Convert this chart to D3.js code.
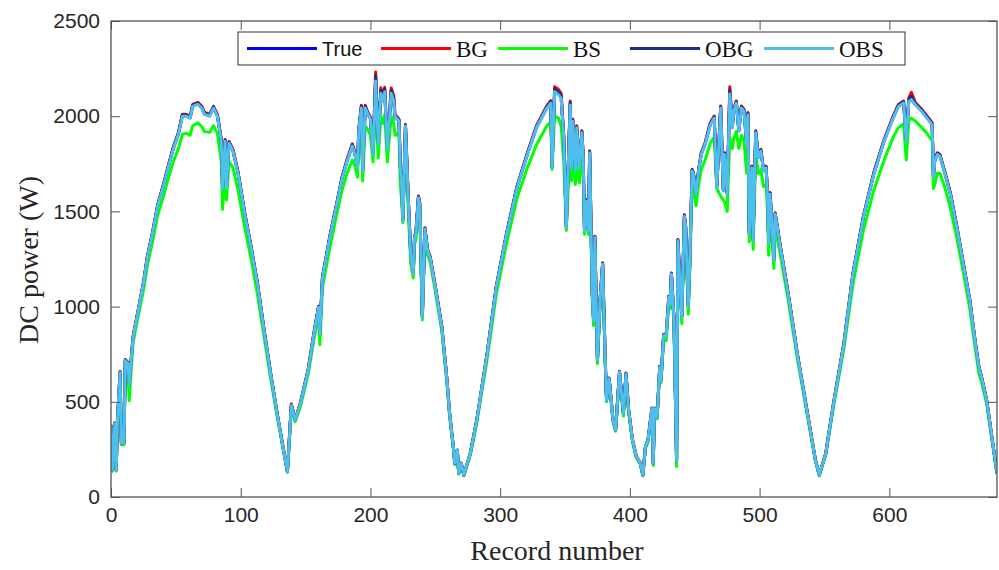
<!DOCTYPE html>
<html>
<head>
<meta charset="utf-8">
<script src="https://cdn.jsdelivr.net/npm/d3@7"></script>
<style>
body { margin: 0; background: #fff; }
.tick text { font-family: "Liberation Sans", Arial, sans-serif; fill: #262626; }
</style>
</head>
<body>
<div id="chart"></div>
<script>

// record numbers
var records = [
  0,1,3,4,5,7,8,10,11,13,
  14,17,21,25,28,32,36,40,44,48,
  52,55,58,61,63,67,70,72,76,79,
  82,85,86,88,89,91,94,98,103,108,
  113,118,123,128,133,136,139,142,146,152,
  156,160,161,163,169,173,178,182,186,188,
  190,191,193,194,196,198,200,202,204,206,
  208,210,211,213,216,218,219,220,222,223,
  224,225,227,229,231,233,234,235,237,238,
  240,242,244,246,250,255,259,261,264,265,
  267,268,270,272,277,282,290,297,305,313,
  321,328,336,339,340,342,345,347,349,351,
  354,355,356,358,359,361,363,364,365,367,
  368,369,371,372,373,375,377,379,381,382,
  384,387,389,392,395,397,399,402,405,408,
  410,412,414,417,418,419,421,423,424,426,
  428,430,431,432,434,436,437,440,442,443,
  445,446,448,449,451,453,455,458,462,465,
  467,470,472,473,475,477,479,480,482,484,
  486,488,490,491,492,494,495,497,499,501,
  503,505,506,507,508,509,511,512,516,522,
  529,536,543,546,551,557,565,572,580,588,
  596,603,607,611,613,615,617,620,625,629,
  633,634,635,637,639,643,647,652,657,662,
  666,669,671,675,679,683
];

var trueW = [
  377,141,387,141,403,655,283,283,718,702,
  590,838,980,1121,1258,1384,1530,1625,1730,1829,
  1908,2002,2002,1992,2054,2065,2044,2012,2002,2044,
  2002,1871,1620,1871,1625,1860,1819,1698,1490,1310,
  1115,875,650,440,246,133,482,404,492,666,
  840,997,860,1150,1375,1504,1670,1766,1845,1803,
  1731,1923,2046,1714,2046,2012,1986,1803,2190,1855,
  2124,2080,2133,1829,2124,2080,1986,1993,1976,1731,
  1644,1452,1950,1592,1278,1174,1364,1384,1574,1540,
  945,1408,1294,1259,1102,893,613,439,255,177,
  246,124,177,115,229,404,753,1102,1382,1626,
  1801,1941,2046,2072,1731,2133,2116,2098,1888,1417,
  2063,1731,1976,1714,1941,1731,1915,1784,1399,1557,
  1399,1810,1067,928,1364,718,1033,1225,718,508,
  622,404,351,657,439,648,456,299,211,177,
  115,264,300,465,177,465,420,683,613,849,
  849,1050,1015,1172,930,190,1347,945,1475,1417,
  1000,1190,1714,1696,1592,1714,1801,1853,1958,1993,
  1626,2046,1609,1801,1592,2120,1941,2028,2072,1923,
  2046,2028,1853,2011,1382,1731,1347,1915,1784,1819,
  1714,1731,1592,1338,1592,1495,1242,1487,1312,1067,
  753,473,194,115,229,491,806,1172,1469,1696,
  1871,1993,2054,2072,1871,2080,2090,2063,2028,1993,
  1958,1679,1766,1801,1792,1696,1592,1417,1225,1033,
  823,683,631,508,316,124
];

var bgW = [
  380,143,390,143,406,660,285,285,722,706,
  594,842,984,1126,1263,1390,1536,1632,1737,1836,
  1916,2010,2010,2000,2062,2073,2052,2022,2010,2052,
  2010,1878,1626,1878,1631,1867,1826,1705,1496,1315,
  1120,879,653,442,248,134,488,406,495,670,
  844,1002,864,1155,1381,1510,1677,1773,1855,1810,
  1738,1932,2058,1721,2058,2020,1994,1810,2232,1862,
  2150,2110,2152,1836,2148,2105,1994,2001,1984,1738,
  1651,1458,1958,1599,1283,1179,1370,1390,1581,1547,
  949,1414,1299,1264,1107,897,616,441,256,178,
  247,125,178,116,230,406,756,1107,1388,1633,
  1808,1950,2055,2082,1738,2155,2140,2120,1896,1423,
  2080,1738,1985,1721,1950,1738,1924,1792,1405,1564,
  1405,1818,1071,932,1370,721,1037,1230,721,510,
  625,406,352,660,441,651,458,300,212,178,
  116,265,301,467,178,467,422,686,616,853,
  853,1055,1019,1177,934,191,1353,949,1482,1423,
  1004,1195,1721,1703,1599,1721,1808,1861,1966,2001,
  1633,2054,1616,1808,1599,2155,1950,2036,2080,1931,
  2054,2036,1861,2019,1388,1738,1353,1924,1792,1826,
  1721,1738,1599,1344,1599,1501,1247,1493,1317,1071,
  756,475,195,116,230,493,810,1177,1475,1703,
  1878,2001,2062,2080,1878,2095,2125,2072,2036,2001,
  1966,1686,1773,1808,1799,1703,1599,1423,1230,1037,
  826,686,634,510,317,124
];

var bsW = [
  370,135,380,135,390,640,275,275,700,690,
  505,810,950,1085,1215,1340,1480,1570,1670,1760,
  1830,1905,1910,1900,1950,1965,1945,1920,1915,1950,
  1910,1760,1510,1700,1560,1760,1730,1610,1420,1250,
  1060,840,625,425,240,130,460,395,475,645,
  810,960,800,1100,1320,1450,1610,1700,1770,1740,
  1680,1840,1950,1660,1950,1930,1900,1760,2060,1780,
  2000,1960,2010,1760,2000,1960,1900,1910,1890,1640,
  1560,1440,1850,1530,1230,1150,1330,1350,1520,1500,
  930,1370,1270,1235,1080,870,595,425,245,170,
  240,120,170,112,220,390,725,1065,1335,1570,
  1730,1850,1950,1970,1720,2000,1990,1950,1760,1400,
  1850,1660,1800,1640,1780,1650,1780,1700,1380,1500,
  1380,1740,1040,900,1320,700,1000,1180,700,500,
  600,395,345,630,425,620,445,290,205,172,
  112,255,290,450,165,450,410,660,600,820,
  820,1020,990,1130,900,160,1300,910,1420,1350,
  960,1150,1640,1620,1530,1640,1720,1770,1860,1890,
  1620,1580,1560,1550,1500,1890,1830,1880,1920,1830,
  1900,1870,1700,1830,1340,1620,1300,1800,1700,1720,
  1630,1640,1510,1270,1510,1420,1200,1420,1270,1035,
  730,460,190,112,222,475,780,1120,1400,1610,
  1770,1890,1940,1960,1770,1975,1990,1975,1940,1910,
  1870,1620,1640,1700,1700,1620,1520,1360,1180,990,
  790,650,605,490,305,120
];

var obgW = [
  378,142,388,142,404,657,284,284,720,704,
  592,840,982,1124,1261,1387,1533,1628,1734,1833,
  1912,2006,2006,1996,2058,2069,2048,2016,2006,2048,
  2006,1875,1623,1875,1628,1864,1823,1701,1493,1313,
  1118,877,651,441,247,133,485,405,493,668,
  842,1000,862,1153,1378,1507,1674,1770,1850,1807,
  1735,1927,2052,1718,2052,2016,1990,1807,2212,1859,
  2136,2094,2142,1833,2136,2092,1990,1997,1980,1735,
  1648,1455,1954,1596,1281,1177,1367,1387,1578,1544,
  947,1411,1297,1262,1105,895,615,440,255,177,
  246,124,177,115,229,405,755,1105,1385,1630,
  1805,1945,2050,2077,1735,2144,2128,2109,1892,1420,
  2071,1735,1980,1718,1945,1735,1919,1788,1402,1561,
  1402,1814,1069,930,1367,720,1035,1228,720,509,
  624,405,351,659,440,650,457,299,211,177,
  115,264,300,466,177,466,421,685,615,851,
  851,1053,1017,1175,932,190,1350,947,1479,1420,
  1002,1193,1718,1700,1596,1718,1805,1857,1962,1997,
  1630,2050,1613,1805,1596,2138,1945,2032,2076,1927,
  2050,2032,1857,2015,1385,1735,1350,1919,1788,1823,
  1718,1735,1596,1341,1596,1498,1245,1490,1315,1069,
  755,474,194,115,229,492,808,1175,1472,1700,
  1875,1997,2058,2076,1875,2088,2105,2067,2032,1997,
  1962,1683,1770,1805,1796,1700,1596,1420,1228,1035,
  825,685,633,509,316,124
];

var obsW = [
  377,141,387,141,403,655,283,283,717,701,
  590,837,979,1120,1257,1383,1528,1623,1728,1827,
  1906,2000,2000,1990,2052,2063,2042,2010,2000,2042,
  2000,1869,1619,1869,1623,1858,1817,1696,1489,1309,
  1114,874,650,440,246,133,481,404,491,665,
  839,996,859,1149,1374,1502,1668,1764,1843,1801,
  1729,1921,2043,1712,2043,2010,1984,1801,2185,1853,
  2120,2077,2129,1827,2120,2077,1984,1991,1974,1729,
  1642,1451,1948,1590,1277,1173,1363,1383,1572,1538,
  944,1407,1293,1258,1101,892,613,439,255,177,
  246,124,177,115,229,404,752,1101,1381,1624,
  1799,1939,2043,2069,1729,2129,2112,2094,1886,1416,
  2059,1729,1973,1712,1939,1729,1913,1782,1398,1555,
  1398,1808,1066,927,1363,718,1032,1224,718,508,
  621,404,351,656,439,647,456,299,211,177,
  115,264,300,465,177,465,420,682,612,848,
  848,1049,1014,1171,929,190,1346,944,1473,1416,
  999,1189,1712,1694,1590,1712,1799,1851,1955,1990,
  1624,2043,1607,1799,1590,2116,1939,2025,2069,1921,
  2043,2025,1851,2008,1381,1729,1346,1913,1782,1817,
  1712,1729,1590,1337,1590,1494,1241,1486,1311,1066,
  752,473,194,115,229,491,805,1171,1467,1694,
  1869,1990,2051,2069,1869,2077,2087,2060,2025,1990,
  1955,1677,1764,1799,1790,1694,1590,1416,1224,1032,
  822,682,631,508,316,124
];

var seriesNames = ["True", "BG", "BS", "OBG", "OBS"];
var xTicks = [0, 100, 200, 300, 400, 500, 600];
var yTicks = [0, 500, 1000, 1500, 2000, 2500];

var margin = { top: 21, right: 2, bottom: 73, left: 111 },
    width = 999 - margin.left - margin.right,
    height = 570 - margin.top - margin.bottom;

var colors = {
    "True": "#0000ff",
    "BG": "#ff0000",
    "BS": "#00ff00",
    "OBG": "#1b2f8a",
    "OBS": "#4dbeee"
};

var seriesData = {
    "True": trueW,
    "BG": bgW,
    "BS": bsW,
    "OBG": obgW,
    "OBS": obsW
};

var x = d3.scaleLinear().domain([0, 683]).range([0, width]);
var y = d3.scaleLinear().domain([0, 2500]).range([height, 0]);

var svg = d3.select("#chart").append("svg")
    .attr("width", width + margin.left + margin.right)
    .attr("height", height + margin.top + margin.bottom)
    .append("g")
    .attr("transform", "translate(" + margin.left + "," + margin.top + ")");

svg.append("defs").append("clipPath")
    .attr("id", "plotclip")
    .append("rect")
    .attr("width", width)
    .attr("height", height);

// lines, OBS last so it sits on top like in the figure
var line = d3.line()
    .x(function(d) { return x(d[0]); })
    .y(function(d) { return y(d[1]); });

var lines = svg.append("g").attr("clip-path", "url(#plotclip)");

seriesNames.forEach(function(name) {
    var vals = seriesData[name];
    var pts = records.map(function(r, i) { return [r, vals[i]]; });
    lines.append("path")
        .datum(pts)
        .attr("fill", "none")
        .attr("stroke", colors[name])
        .attr("stroke-width", 3)
        .attr("stroke-linejoin", "round")
        .attr("d", line);
});

// axes, matlab style ticks pointing inwards
var axisColor = "#555";

var xAxis = svg.append("g")
    .attr("transform", "translate(0," + height + ")")
    .call(d3.axisBottom(x).tickValues(xTicks).tickSize(-9).tickPadding(10));
xAxis.selectAll("text").style("font-size", "21px");

var xTop = svg.append("g")
    .call(d3.axisTop(x).tickValues(xTicks).tickSize(-9).tickFormat(""));

var yAxis = svg.append("g")
    .call(d3.axisLeft(y).tickValues(yTicks).tickSize(-9).tickPadding(11).tickFormat(d3.format("d")));
yAxis.selectAll("text").style("font-size", "21px");

var yRight = svg.append("g")
    .attr("transform", "translate(" + width + ",0)")
    .call(d3.axisRight(y).tickValues(yTicks).tickSize(-9).tickFormat(""));

[xAxis, xTop, yAxis, yRight].forEach(function(a) {
    a.select(".domain").remove();
    a.selectAll("line").attr("stroke", axisColor);
});

svg.append("rect")
    .attr("width", width)
    .attr("height", height)
    .attr("fill", "none")
    .attr("stroke", axisColor)
    .attr("stroke-width", 1.3);

svg.append("text")
    .attr("text-anchor", "middle")
    .attr("x", 557 - margin.left)
    .attr("y", height + 63)
    .style("font-family", "'Liberation Serif', 'Times New Roman', serif")
    .style("font-size", "28px")
    .attr("fill", "#262626")
    .text("Record number");

svg.append("text")
    .attr("text-anchor", "middle")
    .attr("transform", "translate(" + (38 - margin.left) + "," + (260 - margin.top) + ")rotate(-90)")
    .style("font-family", "'Liberation Serif', 'Times New Roman', serif")
    .style("font-size", "28px")
    .attr("fill", "#262626")
    .text("DC power (W)");

// legend
var legendX = 238 - margin.left, legendY = 32 - margin.top;
var legend = svg.append("g").attr("transform", "translate(" + legendX + "," + legendY + ")");

legend.append("rect")
    .attr("width", 667)
    .attr("height", 33)
    .attr("fill", "#fff")
    .attr("stroke", "#333")
    .attr("stroke-width", 1);

var legendLineStart = [9, 143, 260, 392, 526];

seriesNames.forEach(function(name, i) {
    var lx = legendLineStart[i];
    legend.append("line")
        .attr("x1", lx)
        .attr("x2", lx + 70)
        .attr("y1", 16.5)
        .attr("y2", 16.5)
        .attr("stroke", colors[name])
        .attr("stroke-width", 3);
    legend.append("text")
        .attr("x", lx + 75)
        .attr("y", 16.5)
        .attr("dy", "0.35em")
        .style("font-family", name === "True" ? "'Liberation Sans', Arial, sans-serif" : "'Liberation Serif', 'Times New Roman', serif")
        .style("font-size", name === "True" ? "20px" : "23px")
        .attr("fill", "#111")
        .text(name);
});

</script>
</body>
</html>
